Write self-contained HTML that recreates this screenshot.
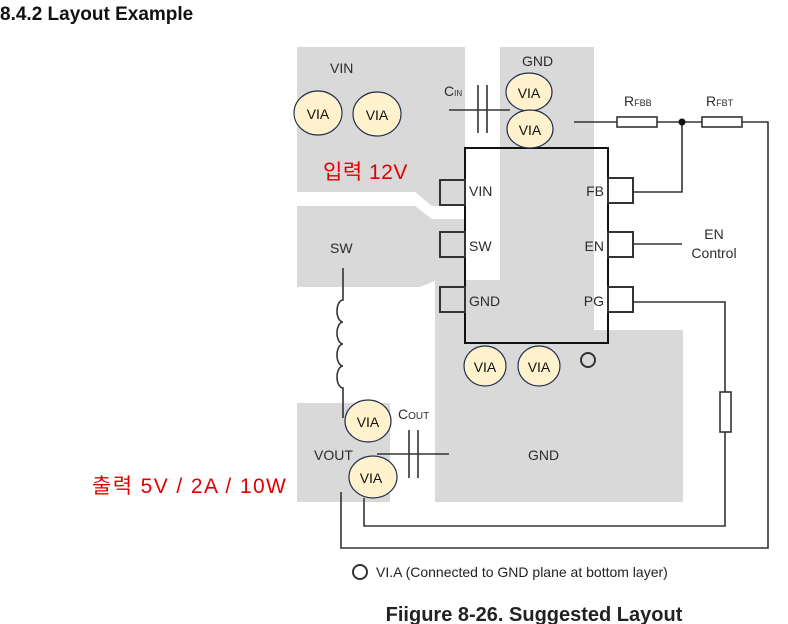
<!DOCTYPE html>
<html><head><meta charset="utf-8"><style>
body{margin:0;background:#fff;}
svg{display:block;}
text{font-family:"Liberation Sans",Arial,sans-serif;}
.k{font-family:"Liberation Sans","Noto Sans CJK KR",sans-serif;}
</style></head><body>
<svg width="788" height="624" viewBox="0 0 788 624" xmlns="http://www.w3.org/2000/svg">
<text x="0" y="20" font-size="19" font-weight="bold" fill="#111">8.4.2 Layout Example</text>
<g fill="#d9d9d9">
<polygon points="297,47 465,47 465,206 432,206 415,192 297,192"/>
<polygon points="297,206 415,206 432,219 465,219 465,280 437,280 420,287 297,287"/>
<polygon points="500,47 594,47 594,330 683,330 683,502 435,502 435,280 500,280"/>
<rect x="297" y="403" width="93" height="99"/>
</g>
<g fill="#2b2b2b" font-size="14">
<text x="330" y="73">VIN</text>
<text x="522" y="66">GND</text>
<text x="330" y="253">SW</text>
<text x="314" y="460">VOUT</text>
<text x="528" y="460">GND</text>
<text x="469" y="196">VIN</text>
<text x="469" y="251">SW</text>
<text x="469" y="306">GND</text>
<text x="604" y="196" text-anchor="end">FB</text>
<text x="604" y="251" text-anchor="end">EN</text>
<text x="604" y="306" text-anchor="end">PG</text>
<text x="714" y="239" text-anchor="middle">EN</text>
<text x="714" y="258" text-anchor="middle">Control</text>
<text x="444" y="96">C<tspan font-size="8">IN</tspan></text>
<text x="398" y="419">C<tspan font-size="10">OUT</tspan></text>
<text x="624" y="106">R<tspan font-size="9">FBB</tspan></text>
<text x="706" y="106">R<tspan font-size="9">FBT</tspan></text>
</g>
<g fill="none" stroke="#333" stroke-width="2">
<rect x="465" y="148" width="143" height="195" stroke="#111"/>
<rect x="440" y="180" width="25" height="25"/>
<rect x="440" y="232" width="25" height="25"/>
<rect x="440" y="287" width="25" height="25"/>
<rect x="608" y="178" width="25" height="25"/>
<rect x="608" y="232" width="25" height="25"/>
<rect x="608" y="287" width="25" height="25"/>
</g>
<g fill="none" stroke="#333" stroke-width="1.6">
<path d="M449 110H510M478 85V133M487 85V133"/>
<path d="M574 122H768V548H341V492"/>
<rect x="617" y="117" width="40" height="10" fill="#fff"/>
<rect x="702" y="117" width="40" height="10" fill="#fff"/>
<path d="M682 122V192H633"/>
<path d="M633 244H682"/>
<path d="M633 302H725V526H364V498"/>
<rect x="720" y="392" width="11" height="40" fill="#fff"/>
<path d="M343 268V300 a6 11 0 0 0 0 22 a6 11 0 0 0 0 22 a6 11 0 0 0 0 22 a6 11 0 0 0 0 22 V418"/>
<path d="M377 454H449M409 430V478M418 430V478"/>
</g>
<circle cx="682" cy="122" r="3.5" fill="#111"/>
<g fill="#fff2cc" stroke="#1f2f4f" stroke-width="1.2">
<ellipse cx="318" cy="113" rx="24" ry="22"/>
<ellipse cx="377" cy="114" rx="24" ry="22"/>
<ellipse cx="529" cy="92" rx="23" ry="19"/>
<ellipse cx="530" cy="129" rx="23" ry="19"/>
<ellipse cx="485" cy="366" rx="21" ry="20"/>
<ellipse cx="539" cy="366" rx="21" ry="20"/>
<ellipse cx="368" cy="421" rx="23" ry="21"/>
<ellipse cx="373" cy="477" rx="24" ry="21"/>
</g>
<g font-size="14" fill="#111" text-anchor="middle">
<text x="318" y="119">VIA</text><text x="377" y="120">VIA</text>
<text x="529" y="98">VIA</text><text x="530" y="135">VIA</text>
<text x="485" y="372">VIA</text><text x="539" y="372">VIA</text>
<text x="368" y="427">VIA</text><text x="371" y="483">VIA</text>
</g>
<circle cx="588" cy="360" r="7" fill="none" stroke="#333" stroke-width="2"/>
<circle cx="360" cy="572" r="7" fill="none" stroke="#333" stroke-width="2"/>
<text x="376" y="577" font-size="14" fill="#222">VI.A (Connected to GND plane at bottom layer)</text>
<text x="534" y="621" font-size="20" font-weight="bold" fill="#222" text-anchor="middle">Fiigure 8-26. Suggested Layout</text>
<text class="k" x="323" y="179" font-size="21" letter-spacing="0.5" fill="#e00000">입력 12V</text>
<text class="k" x="92" y="493" font-size="21" letter-spacing="1.4" fill="#e00000">출력 5V / 2A / 10W</text>
</svg>
</body></html>
